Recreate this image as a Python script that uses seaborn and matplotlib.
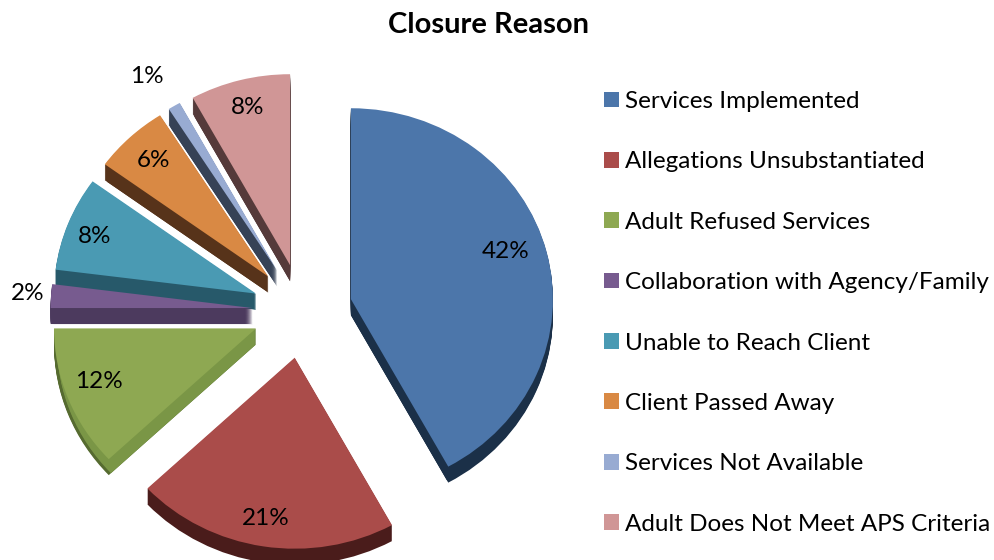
import matplotlib
matplotlib.use("Agg")
import matplotlib.pyplot as plt
import numpy as np
import seaborn as sns

reasons = ["Services Implemented", "Allegations Unsubstantiated", "Adult Refused Services",
           "Collaboration with Agency/Family", "Unable to Reach Client", "Client Passed Away",
           "Services Not Available", "Adult Does Not Meet APS Criteria"]
shares = [42, 21, 12, 2, 8, 6, 1, 8]

top_colors = ["#4c76aa", "#aa4c4a", "#8ea852", "#775b8f", "#4a9ab3", "#d98944", "#98abd2", "#d09696"]
side_colors = ["#1b3048", "#4a1c1b", "#566b30", "#4c3a5e", "#27596a", "#57331a", "#364256", "#553a3a"]
inner_sides = ["#1b3048", "#4a1c1b", "#7a9646", "#4c3a5e", "#27596a", "#57331a", "#364256", "#553a3a"]

# label nudges in axes units, small slices sit outside
nudges = [(-0.01, 0.05), (-0.02, -0.05), (-0.035, 0.015), (-0.317, 0.025),
          (-0.055, 0.005), (-0.02, 0.025), (-0.235, 0.325), (-0.01, 0.05)]

sns.set_theme(style="white")
plt.rcParams["font.family"] = ["Lato", "DejaVu Sans"]

fig, ax = plt.subplots(figsize=(9.95, 5.6), dpi=100)
fig.subplots_adjust(0, 0, 1, 1)

rx, ry = 202, 191
cx, cy = 302.5, 311
depth = 16 / ry
explode = [50 / rx] * len(shares)

# extruded side first: dark rim, then lighter radial faces
for d in np.linspace(depth, 0.005, 16):
    ax.pie(shares, colors=side_colors, explode=explode, startangle=90, counterclock=False,
           center=(0, -d), wedgeprops={"linewidth": 0})
for d in np.linspace(depth, 0.005, 16):
    ax.pie(shares, colors=inner_sides, explode=explode, startangle=90, counterclock=False,
           center=(0, -d), radius=0.985, wedgeprops={"linewidth": 0})

wedges, _, pct_texts = ax.pie(shares, colors=top_colors, explode=explode, startangle=90, counterclock=False,
                              autopct="%.0f%%", pctdistance=0.8,
                              wedgeprops={"linewidth": 0},
                              textprops={"fontsize": 17.5, "color": "black"})
for t, (dx, dy) in zip(pct_texts, nudges):
    x, y = t.get_position()
    t.set_position((x + dx, y + dy))

ax.set_aspect("auto")
ax.set_xlim(-cx / rx, (995 - cx) / rx)
ax.set_ylim(-(560 - cy) / ry, cy / ry)

fig.suptitle("Closure Reason", x=489 / 995, y=1 - 25 / 560, va="center", fontsize=21, fontweight="bold", color="black")

fig.legend(wedges, reasons, loc="upper left", bbox_to_anchor=(604 / 995, 1 - 91 / 560), frameon=False,
           fontsize=17.5, labelspacing=1.62, handlelength=0.62, handleheight=0.62, handletextpad=0.25,
           labelcolor="black", borderpad=0, borderaxespad=0)

fig.savefig("out.png", dpi=100)
